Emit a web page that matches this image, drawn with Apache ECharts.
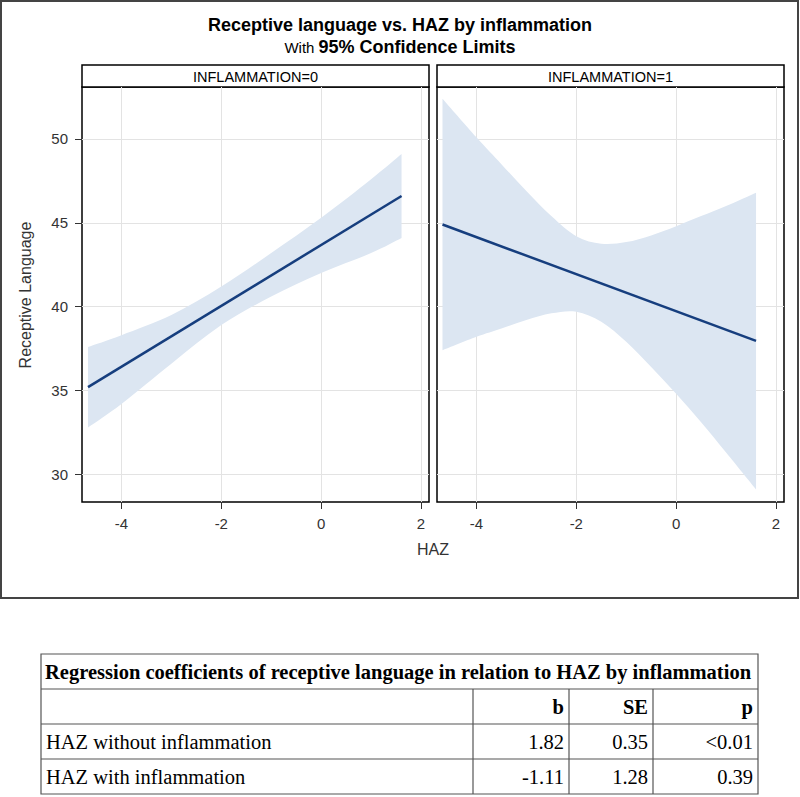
<!DOCTYPE html>
<html><head><meta charset="utf-8">
<script src="https://cdn.jsdelivr.net/npm/echarts@6/dist/echarts.min.js"></script>
<style>html,body{margin:0;padding:0;background:#fff;} #c{width:800px;height:797px;}</style>
</head><body><div id="c"></div>
<script>
// ---- text ----
const titleText = 'Receptive language vs. HAZ by inflammation';
const subtitleWith = 'With';
const subtitleBold = '95% Confidence Limits';
const panelLabels = ['INFLAMMATION=0', 'INFLAMMATION=1'];
const xAxisName = 'HAZ';
const yAxisName = 'Receptive Language';
// ---- tick labels ----
const xTicks = [-4, -2, 0, 2];
const yTicks = [30, 35, 40, 45, 50];
// ---- panel 0 (no inflammation) ----
const haz0 = [-4.67, -4, -3, -2, -1, 0, 1, 1.61];
const upper0 = [37.6, 38.3, 39.5, 41.2, 43.2, 45.3, 47.6, 49.1];
const lower0 = [32.8, 34.2, 36.6, 38.9, 40.6, 42.0, 43.2, 44.1];
const fitX0 = [-4.67, 1.61];
const fitY0 = [35.2, 46.6];
// ---- panel 1 (inflammation) ----
const haz1 = [-4.68, -4, -3.5, -3, -2.5, -2, -1.5, -1, -0.5, 0, 0.5, 1, 1.6];
const upper1 = [52.4, 50.1, 48.5, 46.9, 45.4, 44.2, 43.75, 43.85, 44.25, 44.8, 45.4, 46.0, 46.8];
const lower1 = [37.4, 38.2, 38.7, 39.2, 39.6, 39.7, 39.1, 37.9, 36.4, 34.8, 33.1, 31.3, 29.1];
const fitX1 = [-4.68, 1.6];
const fitY1 = [44.9, 37.96];
// ---- table ----
const tableTitle = 'Regression coefficients of receptive language in relation to HAZ by inflammation';
const tableHeader = ['', 'b', 'SE', 'p'];
const rowLabels = ['HAZ without inflammation', 'HAZ with inflammation'];
const coefB = ['1.82', '-1.11'];
const coefSE = ['0.35', '1.28'];
const coefP = ['<0.01', '0.39'];

const SANS = 'Liberation Sans, Arial, sans-serif';
const SERIF = 'Liberation Serif, Times New Roman, serif';
const BAND = '#dce6f2';
const LINE = '#163e7e';

function curve(P) {
  let s = '';
  for (let i = 0; i < P.length - 1; i++) {
    const p0 = P[i - 1] || P[i], p1 = P[i], p2 = P[i + 1], p3 = P[i + 2] || P[i + 1];
    const c1 = [p1[0] + (p2[0] - p0[0]) / 6, p1[1] + (p2[1] - p0[1]) / 6];
    const c2 = [p2[0] - (p3[0] - p1[0]) / 6, p2[1] - (p3[1] - p1[1]) / 6];
    s += ' C' + c1[0] + ' ' + c1[1] + ' ' + c2[0] + ' ' + c2[1] + ' ' + p2[0] + ' ' + p2[1];
  }
  return s;
}
function bandRenderer(xs, lo, up) {
  return function (params, api) {
    if (params.dataIndex !== 0) return null;
    const U = xs.map((x, k) => api.coord([x, up[k]]));
    const L = xs.map((x, k) => api.coord([x, lo[k]])).reverse();
    const d = 'M' + U[0][0] + ' ' + U[0][1] + curve(U) + ' L' + L[0][0] + ' ' + L[0][1] + curve(L) + ' Z';
    return { type: 'path', shape: { pathData: d }, style: { fill: BAND, stroke: null } };
  };
}

const grids = [
  { left: 82, top: 87, width: 347, height: 415 },
  { left: 437, top: 87, width: 347, height: 415 }
].map(g => Object.assign(g, { show: true, borderColor: '#000', borderWidth: 1.5, backgroundColor: 'transparent' }));

const xAxes = [0, 1].map(i => ({
  type: 'value', gridIndex: i, min: -4.79, max: 2.16, position: 'bottom',
  axisLine: { show: false, onZero: false },
  axisTick: { show: true, length: 7, customValues: xTicks, lineStyle: { color: '#333', width: 1 } },
  axisLabel: { customValues: xTicks, fontSize: 15, color: '#333', margin: 14, fontFamily: SANS },
  splitLine: { show: true, lineStyle: { color: '#e3e3e3', width: 1 } }
}));
const yAxes = [0, 1].map(i => ({
  type: 'value', gridIndex: i, min: 28.35, max: 53.1, position: 'left',
  axisLine: { show: false, onZero: false },
  axisTick: { show: i === 0, length: 7, customValues: yTicks, lineStyle: { color: '#333', width: 1 } },
  axisLabel: { show: i === 0, customValues: yTicks, fontSize: 15, color: '#333', margin: 14, fontFamily: SANS },
  splitLine: { show: true, lineStyle: { color: '#e3e3e3', width: 1 } }
}));

const panels = [
  { xs: haz0, lo: lower0, up: upper0, fx: fitX0, fy: fitY0 },
  { xs: haz1, lo: lower1, up: upper1, fx: fitX1, fy: fitY1 }
];
const series = [];
panels.forEach((p, i) => {
  series.push({
    type: 'custom', xAxisIndex: i, yAxisIndex: i, z: 1, silent: true,
    renderItem: bandRenderer(p.xs, p.lo, p.up),
    data: p.xs.map((x, k) => [x, p.lo[k], p.up[k]]),
    encode: { x: 0, y: [1, 2] }
  });
  series.push({
    type: 'line', xAxisIndex: i, yAxisIndex: i, z: 3, symbol: 'none', silent: true,
    data: p.fx.map((x, k) => [x, p.fy[k]]),
    lineStyle: { color: LINE, width: 2.5 }
  });
});

const graphic = [];
// outer frame
graphic.push({ type: 'rect', shape: { x: 1, y: 1, width: 797, height: 597 }, style: { fill: 'none', stroke: '#444', lineWidth: 2 }, z: 0 });
// titles
graphic.push({ type: 'text', x: 400, y: 25, style: { text: titleText, font: 'bold 18px ' + SANS, fill: '#000', align: 'center', verticalAlign: 'middle' } });
graphic.push({ type: 'text', x: 400, y: 47, style: {
  text: '{a|' + subtitleWith + ' }{b|' + subtitleBold + '}', align: 'center', verticalAlign: 'middle',
  rich: { a: { fontSize: 15, fontFamily: SANS, color: '#000' }, b: { fontSize: 18, fontWeight: 'bold', fontFamily: SANS, color: '#000' } }
} });
// panel headers
grids.forEach((g, i) => {
  graphic.push({ type: 'rect', shape: { x: g.left, y: 65, width: g.width, height: 22 }, style: { fill: '#fff', stroke: '#000', lineWidth: 1.5 } });
  graphic.push({ type: 'text', x: g.left + g.width / 2, y: 76.5, style: { text: panelLabels[i], font: '14.5px ' + SANS, fill: '#000', align: 'center', verticalAlign: 'middle' } });
});
// axis names
graphic.push({ type: 'text', x: 433, y: 549, style: { text: xAxisName, font: '16px ' + SANS, fill: '#333', align: 'center', verticalAlign: 'middle' } });
graphic.push({ type: 'text', x: 25, y: 295, rotation: Math.PI / 2, style: { text: yAxisName, font: '16px ' + SANS, fill: '#333', align: 'center', verticalAlign: 'middle' } });

// table
const tL = 41, tR = 758, tT = 654, rowH = [35, 35, 35, 35];
const colX = [tL, 473, 569, 653, tR];
const rowY = [tT];
rowH.forEach(h => rowY.push(rowY[rowY.length - 1] + h));
const TB = '#555';
graphic.push({ type: 'rect', shape: { x: tL, y: tT, width: tR - tL, height: rowY[4] - tT }, style: { fill: 'none', stroke: TB, lineWidth: 1.2 } });
for (let r = 1; r < 4; r++) graphic.push({ type: 'line', shape: { x1: tL, y1: rowY[r], x2: tR, y2: rowY[r] }, style: { stroke: TB, lineWidth: 1.2 } });
for (let c = 1; c < 4; c++) graphic.push({ type: 'line', shape: { x1: colX[c], y1: rowY[1], x2: colX[c], y2: rowY[4] }, style: { stroke: TB, lineWidth: 1.2 } });
graphic.push({ type: 'text', x: tL + 4, y: (rowY[0] + rowY[1]) / 2, style: { text: tableTitle, font: 'bold 20.5px ' + SERIF, fill: '#000', align: 'left', verticalAlign: 'middle' } });
for (let c = 1; c < 4; c++) graphic.push({ type: 'text', x: colX[c + 1] - 5, y: (rowY[1] + rowY[2]) / 2, style: { text: tableHeader[c], font: 'bold 20.5px ' + SERIF, fill: '#000', align: 'right', verticalAlign: 'middle' } });
rowLabels.forEach((lab, k) => {
  const cy = (rowY[2 + k] + rowY[3 + k]) / 2;
  graphic.push({ type: 'text', x: tL + 5, y: cy, style: { text: lab, font: '20.5px ' + SERIF, fill: '#000', align: 'left', verticalAlign: 'middle' } });
  [coefB[k], coefSE[k], coefP[k]].forEach((v, c) => {
    graphic.push({ type: 'text', x: colX[c + 2] - 5, y: cy, style: { text: v, font: '20.5px ' + SERIF, fill: '#000', align: 'right', verticalAlign: 'middle' } });
  });
});

const chart = echarts.init(document.getElementById('c'), null, { renderer: 'svg' });
chart.setOption({
  animation: false,
  backgroundColor: '#fff',
  grid: grids,
  xAxis: xAxes,
  yAxis: yAxes,
  series: series,
  graphic: graphic
});
</script>
</body></html>
